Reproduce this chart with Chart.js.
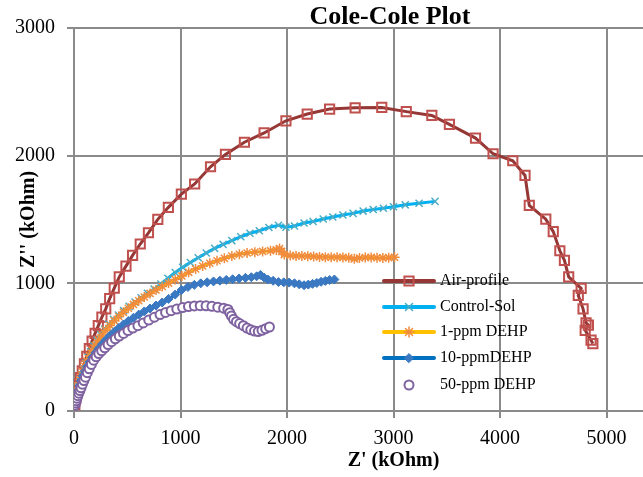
<!DOCTYPE html>
<html>
<head>
<meta charset="utf-8">
<script src="https://cdn.jsdelivr.net/npm/chart.js@4.4.0/dist/chart.umd.min.js"></script>
<style>
  html, body { margin: 0; padding: 0; overflow: hidden; background: #fff; }
  #wrap { width: 780px; height: 477px; }
</style>
</head>
<body>
<div id="wrap"><canvas id="myChart" width="780" height="477"></canvas></div>
<script>
// axis ticks (the 6000 tick is cut off by the window, like the original)
const xTicks = [0, 1000, 2000, 3000, 4000, 5000, 6000];
const yTicks = [0, 1000, 2000, 3000];

// Z' and Z'' values (kOhm)
const airX = [8, 18, 30, 44, 60, 78, 98, 120, 144, 170, 198, 228, 262, 298, 335, 378, 425, 488, 550, 622,
  699, 787, 886, 1008, 1133, 1282, 1422, 1600, 1785, 1990, 2190, 2400, 2640, 2890, 3120, 3360, 3525, 3770, 3935, 4120,
  4235, 4275, 4430, 4500, 4562, 4605, 4645, 4762, 4735, 4780, 4808, 4830, 4800, 4855, 4872];
const airY = [50, 100, 155, 210, 262, 315, 370, 428, 488, 548, 608, 668, 735, 800, 880, 962, 1050, 1135, 1219, 1308,
  1396, 1501, 1595, 1699, 1778, 1913, 2010, 2105, 2178, 2273, 2326, 2365, 2375, 2378, 2345, 2315, 2245, 2138, 2015, 1960,
  1845, 1610, 1503, 1405, 1255, 1180, 1050, 960, 905, 800, 690, 672, 632, 555, 528];

const ctrlX = [12, 20, 30, 42, 56, 72, 90, 110, 133, 158, 186, 217, 251, 288, 328, 371, 417, 466, 518, 573,
  630, 690, 752, 816, 882, 950, 1020, 1092, 1166, 1242, 1320, 1400, 1482, 1566, 1652, 1740, 1830, 1920, 1990, 2070,
  2160, 2245, 2340, 2430, 2525, 2620, 2715, 2810, 2905, 3000, 3110, 3240, 3390];
const ctrlY = [65, 105, 150, 195, 240, 285, 330, 375, 420, 465, 510, 555, 598, 640, 680, 718, 752, 786, 820, 853,
  887, 922, 955, 995, 1040, 1085, 1125, 1163, 1200, 1238, 1274, 1305, 1335, 1365, 1392, 1412, 1437, 1455, 1440, 1449,
  1473, 1484, 1504, 1520, 1535, 1548, 1566, 1578, 1588, 1600, 1615, 1627, 1642];

const dehp1X = [10, 17, 26, 37, 50, 65, 82, 101, 122, 146, 172, 200, 231, 264, 300, 338, 378, 420, 464, 510,
  558, 608, 660, 714, 770, 828, 888, 950, 1013, 1077, 1142, 1208, 1275, 1343, 1412, 1482, 1553, 1625, 1698, 1771,
  1845, 1900, 1930, 1950, 1975, 2030, 2085, 2140, 2195, 2250, 2305, 2360, 2415, 2470, 2525, 2580, 2632, 2680, 2735, 2790,
  2845, 2900, 2955, 3010];
const dehp1Y = [55, 95, 138, 180, 222, 265, 307, 350, 392, 433, 475, 515, 555, 595, 633, 670, 706, 740, 773, 805,
  835, 864, 893, 921, 948, 975, 1002, 1030, 1058, 1086, 1112, 1136, 1157, 1177, 1196, 1214, 1228, 1238, 1244, 1250,
  1256, 1262, 1272, 1250, 1225, 1218, 1215, 1214, 1213, 1210, 1207, 1205, 1204, 1204, 1203, 1200, 1192, 1198, 1202, 1203,
  1200, 1199, 1201, 1204];

const dehp10X = [10, 17, 26, 37, 50, 65, 82, 101, 122, 146, 172, 200, 231, 264, 300, 338, 378, 420, 464, 510,
  558, 608, 660, 714, 770, 828, 888, 950, 1010, 1070, 1130, 1190, 1250, 1310, 1370, 1430, 1490, 1550, 1610, 1665,
  1715, 1750, 1785, 1820, 1870, 1920, 1970, 2020, 2070, 2115, 2160, 2200, 2240, 2280, 2320, 2360, 2400, 2445];
const dehp10Y = [50, 85, 122, 160, 198, 236, 274, 311, 348, 385, 420, 455, 490, 524, 557, 590, 620, 650, 678, 705,
  730, 755, 780, 803, 826, 850, 878, 912, 948, 972, 988, 1000, 1008, 1015, 1021, 1027, 1032, 1038, 1043, 1048,
  1055, 1066, 1045, 1030, 1020, 1010, 1008, 1006, 1000, 992, 985, 990, 996, 1003, 1012, 1019, 1026, 1030];

const dehp50X = [10, 15, 21, 28, 36, 45, 55, 66, 79, 93, 108, 125, 143, 163, 185, 208, 233, 260, 289, 320,
  353, 388, 425, 465, 507, 552, 600, 650, 702, 755, 808, 860, 912, 965, 1020, 1075, 1130, 1185, 1240, 1295,
  1350, 1405, 1445, 1462, 1478, 1498, 1525, 1555, 1590, 1625, 1660, 1695, 1730, 1765, 1800, 1835];
const dehp50Y = [45, 62, 80, 100, 120, 140, 160, 182, 210, 238, 265, 300, 330, 365, 398, 425, 450, 472, 495, 520,
  543, 565, 587, 608, 630, 650, 668, 690, 712, 735, 755, 772, 786, 798, 810, 818, 823, 825, 824, 820,
  813, 805, 795, 770, 745, 718, 700, 685, 668, 650, 636, 626, 622, 632, 645, 658];

const toPoints = (xs, ys) => xs.map((x, i) => ({ x: x, y: ys[i] }));

const serif = 'Liberation Serif, Times New Roman, serif';
const gridGray = '#8a8a8a';

// legend sits inside the plot, like the Excel original
const insideLegend = {
  id: 'insideLegend',
  afterDraw(chart) {
    const ctx = chart.ctx;
    const rows = [281, 307, 332, 358, 385];
    chart.data.datasets.forEach((ds, i) => {
      const y = rows[i];
      ctx.save();
      if (ds.showLine) {
        ctx.strokeStyle = ds.borderColor;
        ctx.lineWidth = 4;
        ctx.lineCap = 'round';
        ctx.beginPath();
        ctx.moveTo(384, y);
        ctx.lineTo(434, y);
        ctx.stroke();
      }
      ctx.strokeStyle = ds.pointBorderColor;
      ctx.fillStyle = ds.pointBackgroundColor;
      ctx.lineWidth = ds.pointBorderWidth;
      Chart.helpers.drawPoint(ctx, {
        pointStyle: ds.pointStyle,
        radius: ds.pointRadius,
        rotation: 0,
        borderWidth: ds.pointBorderWidth
      }, 409, y);
      ctx.fillStyle = '#000';
      ctx.font = '16px ' + serif;
      ctx.textBaseline = 'middle';
      ctx.textAlign = 'left';
      ctx.fillText(ds.label, 440, y);
      ctx.restore();
    });
  }
};

const ctx = document.getElementById('myChart').getContext('2d');
new Chart(ctx, {
  type: 'scatter',
  data: {
    datasets: [
      {
        label: 'Air-profile',
        data: toPoints(airX, airY),
        showLine: true,
        borderColor: '#953735',
        borderWidth: 3,
        pointStyle: 'rect',
        pointRadius: 6.5,
        pointBorderWidth: 2,
        pointBorderColor: '#c0504d',
        pointBackgroundColor: 'rgba(0,0,0,0)',
        order: 4
      },
      {
        label: 'Control-Sol',
        data: toPoints(ctrlX, ctrlY),
        showLine: true,
        borderColor: '#00b0f0',
        borderWidth: 3,
        pointStyle: 'crossRot',
        pointRadius: 5,
        pointBorderWidth: 1.5,
        pointBorderColor: '#4bacc6',
        pointBackgroundColor: '#4bacc6',
        order: 3
      },
      {
        label: '1-ppm DEHP',
        data: toPoints(dehp1X, dehp1Y),
        showLine: true,
        borderColor: '#ffc000',
        borderWidth: 3,
        pointStyle: 'star',
        pointRadius: 5,
        pointBorderWidth: 1.5,
        pointBorderColor: '#f08c3c',
        pointBackgroundColor: '#f08c3c',
        order: 2
      },
      {
        label: '10-ppmDEHP',
        data: toPoints(dehp10X, dehp10Y),
        showLine: true,
        borderColor: '#0070c0',
        borderWidth: 3,
        pointStyle: 'rectRot',
        pointRadius: 4.5,
        pointBorderWidth: 1,
        pointBorderColor: '#3a78c2',
        pointBackgroundColor: '#3a78c2',
        order: 1
      },
      {
        label: '50-ppm DEHP',
        data: toPoints(dehp50X, dehp50Y),
        showLine: false,
        pointStyle: 'circle',
        pointRadius: 4.5,
        pointBorderWidth: 2,
        pointBorderColor: '#7f62a0',
        pointBackgroundColor: '#ffffff',
        order: 0
      }
    ]
  },
  options: {
    responsive: false,
    animation: false,
    layout: { padding: 0 },
    plugins: {
      legend: { display: false },
      tooltip: { enabled: false },
      title: {
        display: true,
        text: 'Cole-Cole Plot',
        color: '#000',
        font: { family: serif, size: 26, weight: 'bold', lineHeight: 1 },
        padding: { top: 4, bottom: -2 }
      }
    },
    scales: {
      x: {
        type: 'linear',
        min: 0,
        max: 6000,
        afterBuildTicks: (scale) => { scale.ticks = xTicks.map(v => ({ value: v })); },
        afterFit: (scale) => { scale.height = 66; scale.paddingRight = 67; },
        grid: { color: gridGray, lineWidth: 2, tickLength: 7 },
        border: { color: gridGray, width: 2 },
        ticks: {
          color: '#000', padding: 9, maxRotation: 0,
          font: { family: serif, size: 20 },
          callback: (v) => String(v)
        },
        title: {
          display: true,
          text: "Z' (kOhm)",
          color: '#000',
          font: { family: serif, size: 20, weight: 'bold' },
          padding: { top: 0, bottom: 4 }
        }
      },
      y: {
        type: 'linear',
        min: 0,
        max: 3000,
        afterBuildTicks: (scale) => { scale.ticks = yTicks.map(v => ({ value: v })); },
        afterFit: (scale) => { scale.width = 74; },
        grid: { color: gridGray, lineWidth: 2, tickLength: 7 },
        border: { color: gridGray, width: 2 },
        ticks: {
          color: '#000', padding: 12,
          font: { family: serif, size: 20 },
          callback: (v) => String(v)
        },
        title: {
          display: true,
          text: "Z'' (kOhm)",
          color: '#000',
          font: { family: serif, size: 20, weight: 'bold' },
          padding: { top: 17, bottom: 0 }
        }
      }
    }
  },
  plugins: [insideLegend]
});
</script>
</body>
</html>
